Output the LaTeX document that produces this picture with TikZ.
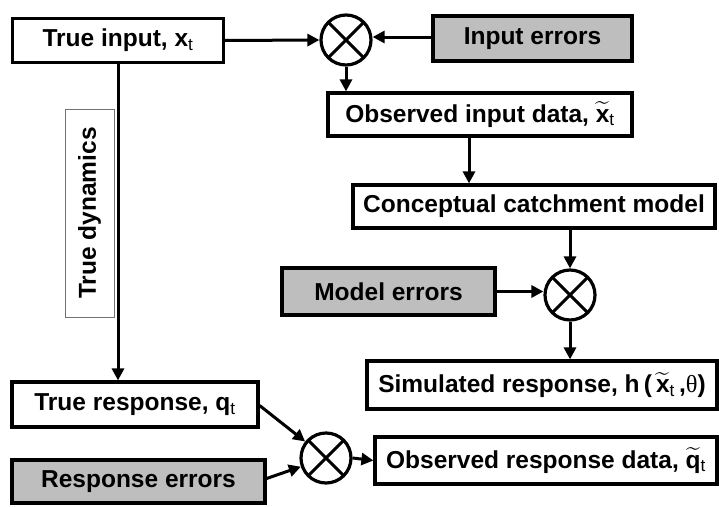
\documentclass[tikz,border=0pt]{standalone}
\usepackage{fontspec}
\usepackage{amsmath}
\setmainfont{Liberation Sans}
\newfontfamily\symserif{Liberation Serif}
\usetikzlibrary{arrows.meta}
\definecolor{boxgray}{RGB}{190,190,190}
\tikzset{
  blk/.style={draw=black, line width=3.2pt, fill=white, inner sep=0pt, minimum height=44pt,
    font=\fontsize{24.5}{28}\selectfont\bfseries},
  errbox/.style={blk, fill=boxgray},
  mult/.style={circle, draw=black, line width=3.2pt, minimum size=50pt, inner sep=0pt,
    path picture={\draw[line width=3pt] (path picture bounding box.north west) -- (path picture bounding box.south east)
      (path picture bounding box.north east) -- (path picture bounding box.south west);}},
  arr/.style={line width=3pt, -{Triangle[length=12pt,width=12pt]}},
  dynbox/.style={draw=black!55, line width=1pt, inner sep=0pt, rotate=90, minimum width=208pt, minimum height=49pt,
    font=\fontsize{24.5}{28}\selectfont\bfseries}
}
\newcommand{\tx}{\ensuremath{\widetilde{\textbf{x}}}}
\newcommand{\tq}{\ensuremath{\widetilde{\textbf{q}}}}
\newcommand{\sbt}{\textsubscript{\mdseries t}}
\begin{document}
\begin{tikzpicture}[x=1pt,y=-1pt]
\useasboundingbox (0,0) rectangle (719,506);
\node[blk, minimum width=211pt] (tin) at (118,40.5) {True input, x\sbt};
\node[errbox, minimum width=199pt, minimum height=45pt] (ierr) at (532.5,38.5) {Input errors};
\node[mult] (c1) at (346,40) {};
\node[blk, minimum width=304pt, minimum height=43pt] (oin) at (480,114.5) {Observed input data, \tx\sbt};
\node[blk, minimum width=362pt, minimum height=43pt] (ccm) at (534,206.5) {Conceptual catchment model};
\node[errbox, minimum width=213pt, minimum height=47pt] (merr) at (388.5,291.5) {Model errors};
\node[mult] (c2) at (570,295) {};
\node[blk, minimum width=350pt, minimum height=48pt] (sim) at (542,385) {Simulated response, h\,(\,\tx\sbt\,,{\mdseries\symserif θ})};
\node[blk, minimum width=342pt, minimum height=47pt] (ores) at (546,460.5) {Observed response data, \tq\sbt};
\node[mult] (c3) at (326,458) {};
\node[blk, minimum width=246pt, minimum height=45pt] (tres) at (135,404.5) {True response, q\sbt};
\node[errbox, minimum width=253pt, minimum height=43pt] (rerr) at (138.5,481.5) {Response errors};
\node[dynbox] (dyn) at (89.5,213) {True dynamics};

\draw[arr] (tin.east) -- (c1.west);
\draw[arr] ([yshift=1.5pt]ierr.west) -- ([yshift=1.5pt]ierr.west -| c1.east);
\draw[arr] (c1.south) -- (c1.south |- oin.north);
\draw[arr] ([xshift=-11pt]oin.south) -- ([xshift=-11pt]oin.south |- ccm.north);
\draw[arr] (c2.north |- ccm.south) -- (c2.north);
\draw[arr] (merr.east) -- (merr.east -| c2.west);
\draw[arr] (c2.south) -- (c2.south |- sim.north);
\draw[arr] (tin.south) -- (tin.south |- tres.north);
\draw[arr] ([yshift=-1pt]tres.east) -- (c3);
\draw[arr] ([yshift=3pt]rerr.east) -- (c3);
\draw[arr] (c3.east) -- (ores.west);
\end{tikzpicture}
\end{document}
